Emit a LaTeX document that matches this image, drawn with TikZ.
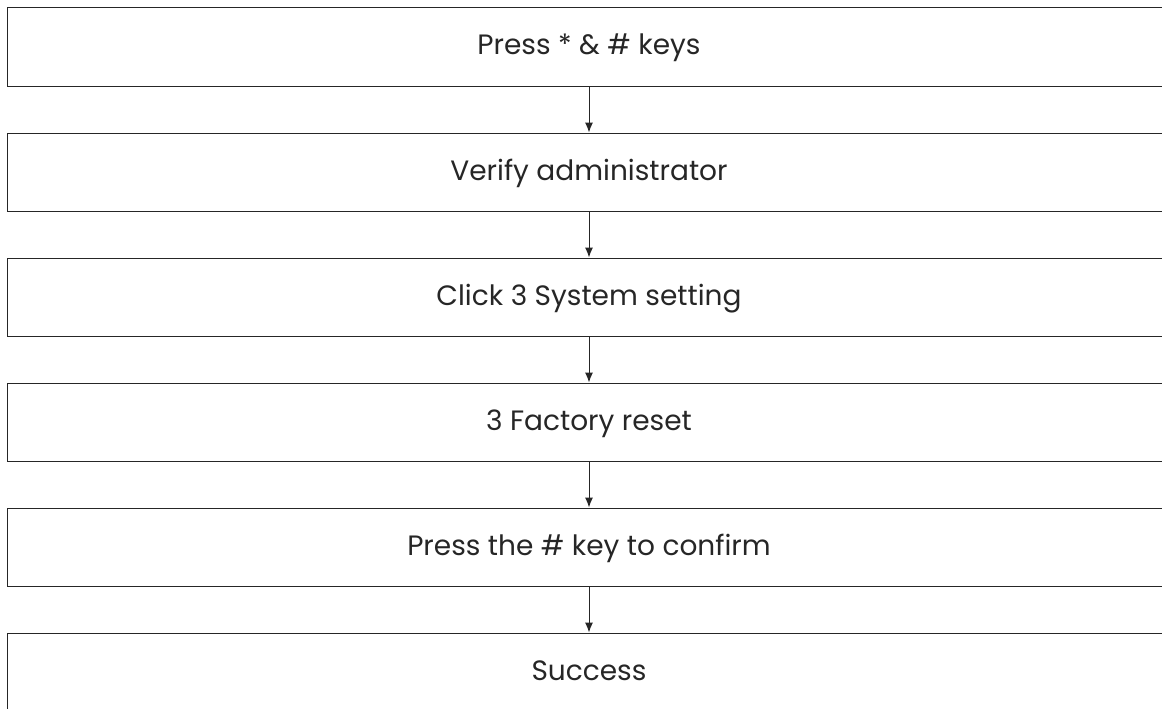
\documentclass[tikz,border=0pt]{standalone}
\usepackage{fontspec}
\setmainfont{Poppins}
\usetikzlibrary{arrows.meta}
\tikzset{/FR/S/stepbox/.style={
	shape=rectangle, draw=black!85, line width=1pt,
	minimum width=1164pt, minimum height=78pt, inner sep=0,
	text height=16pt, text depth=0pt,
	font=\fontsize{28}{32}\selectfont, text=black!85
}}
\tikzset{/FR/S/next/.style={
	draw=black!85, line width=1pt, -{Latex[length=10pt, width=8pt]}
}}

\begin{document}
\begin{tikzpicture}[x=1pt, y=1pt]
				\useasboundingbox (0, 0) rectangle (1162, -709);
				\clip (0, 0) rectangle (1162, -709);
				\path (589, -47) node[/FR/S/stepbox] (press) {Press * \& \# keys};
				\path (press.center) ++ (0, -125) node[/FR/S/stepbox] (verify) {Verify administrator};
				\path (verify.center) ++ (0, -125) node[/FR/S/stepbox] (system) {Click 3 System setting};
				\path (system.center) ++ (0, -125) node[/FR/S/stepbox] (factory) {3 Factory reset};
				\path (factory.center) ++ (0, -125) node[/FR/S/stepbox] (confirm) {Press the \# key to confirm};
				\path (confirm.center) ++ (0, -125) node[/FR/S/stepbox] (success) {Success};
				\draw[/FR/S/next] (press) -- (verify);
				\draw[/FR/S/next] (verify) -- (system);
				\draw[/FR/S/next] (system) -- (factory);
				\draw[/FR/S/next] (factory) -- (confirm);
				\draw[/FR/S/next] (confirm) -- (success);
			\end{tikzpicture}
\end{document}
